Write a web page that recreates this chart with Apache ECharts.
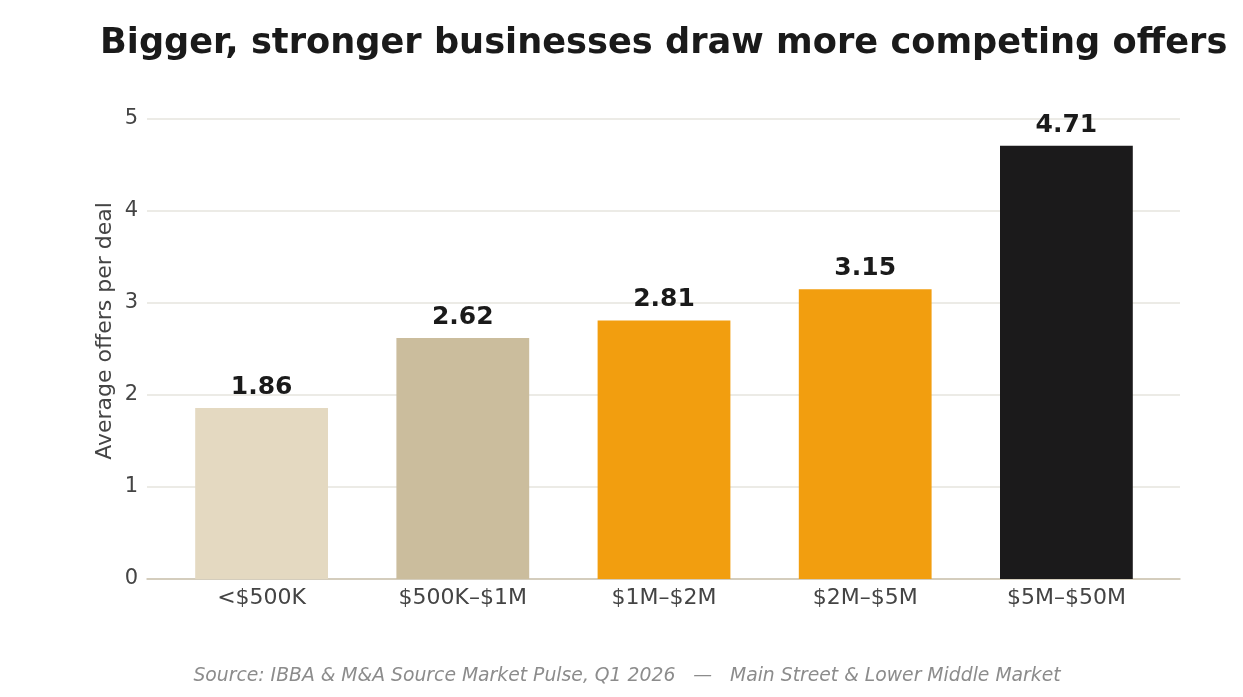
<!DOCTYPE html>
<html>
<head>
<meta charset="utf-8">
<script src="https://cdn.jsdelivr.net/npm/echarts@6/dist/echarts.min.js"></script>
<style>
  html, body { margin: 0; padding: 0; background: #fff; }
  #chart { width: 1243px; height: 697px; }
</style>
</head>
<body>
<div id="chart"></div>
<script>
  var categories = ['<$500K', '$500K–$1M', '$1M–$2M', '$2M–$5M', '$5M–$50M'];
  var offers = [1.86, 2.62, 2.81, 3.15, 4.71];
  var barColors = ['#e4d9c1', '#cbbd9d', '#f29e0f', '#f29e0f', '#1b1a1b'];
  var yTicks = [0, 1, 2, 3, 4, 5];

  var font = 'DejaVu Sans';
  var chart = echarts.init(document.getElementById('chart'));

  chart.setOption({
    backgroundColor: '#ffffff',
    animation: false,
    title: {
      text: 'Bigger, stronger businesses draw more competing offers',
      left: 95,
      top: 21,
      textStyle: { fontFamily: font, fontSize: 35.2, fontWeight: 'bold', color: '#1a1a1a' }
    },
    graphic: [{
      type: 'text',
      x: 627,
      y: 676,
      style: {
        text: 'Source: IBBA & M&A Source Market Pulse, Q1 2026   —   Main Street & Lower Middle Market',
        font: 'italic 18.8px "DejaVu Sans"',
        fill: '#8c8c8c',
        align: 'center',
        verticalAlign: 'middle'
      }
    }, {
      type: 'text',
      x: 105,
      y: 331,
      rotation: Math.PI / 2,
      style: {
        text: 'Average offers per deal',
        font: '22px "DejaVu Sans"',
        fill: '#444',
        align: 'center',
        verticalAlign: 'middle'
      }
    }],
    // grid 0: full-width frame with gridlines; grid 1: inset area holding the bars
    grid: [
      { left: 147, right: 63, top: 119, bottom: 118 },
      { left: 161, right: 76, top: 119, bottom: 118 }
    ],
    xAxis: [{
      gridIndex: 0,
      type: 'value',
      min: 0,
      max: 1,
      axisLine: { show: true, onZero: false, lineStyle: { color: '#ccc4b0', width: 1.5 } },
      axisTick: { show: false },
      axisLabel: { show: false },
      splitLine: { show: false }
    }, {
      gridIndex: 1,
      type: 'category',
      data: categories,
      axisTick: { show: false },
      axisLine: { show: false },
      axisLabel: { fontFamily: font, fontSize: 22, color: '#444', margin: 8 }
    }],
    yAxis: [{
      gridIndex: 0,
      type: 'value',
      min: yTicks[0],
      max: yTicks[yTicks.length - 1],
      interval: 1,
      axisLine: { show: false },
      axisTick: { show: false },
      axisLabel: { fontFamily: font, fontSize: 21, color: '#444', margin: 9, padding: [4, 0, 0, 0] },
      splitLine: { lineStyle: { color: '#e6e4de', width: 1.5 } }
    }, {
      gridIndex: 1,
      type: 'value',
      min: yTicks[0],
      max: yTicks[yTicks.length - 1],
      interval: 1,
      show: false
    }],
    series: [{
      type: 'bar',
      xAxisIndex: 1,
      yAxisIndex: 1,
      barWidth: '66%',
      data: offers.map(function (v, i) {
        return { value: v, itemStyle: { color: barColors[i] } };
      }),
      label: {
        show: true,
        position: 'top',
        distance: 8,
        formatter: function (p) { return p.value.toFixed(2); },
        fontFamily: font,
        fontSize: 25,
        fontWeight: 'bold',
        color: '#1a1a1a'
      }
    }]
  });
</script>
</body>
</html>
